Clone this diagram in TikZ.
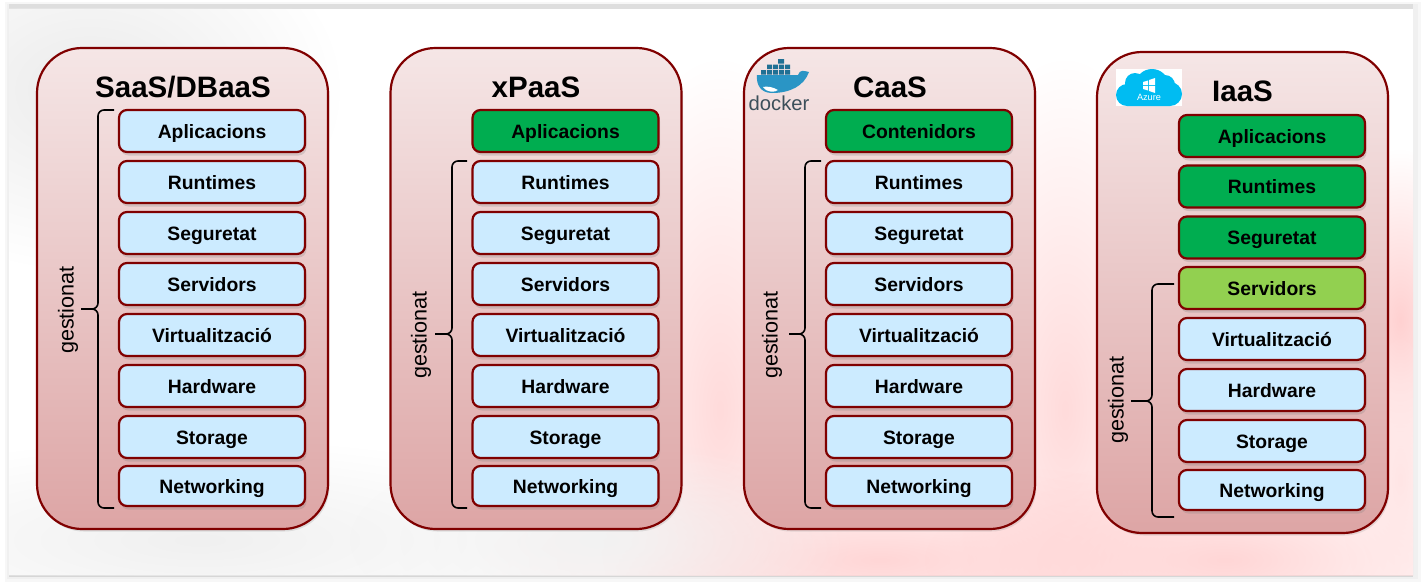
\documentclass[tikz,border=0pt]{standalone}
\usepackage{fontspec}
\setmainfont{Liberation Sans}
\usepackage{tikz}
\usetikzlibrary{shadows,fadings}

\tikzfading[name=softblob, inner color=transparent!0, outer color=transparent!100]

\begin{document}
\begin{tikzpicture}[
    font=\fontsize{11}{13}\selectfont\bfseries,
    panel/.style={
        fill=white,
        minimum width=28.08cm,
        minimum height=11.32cm,
        inner sep=0pt
    },
    smudge/.style={
        fill=red!#1,
        path fading=softblob
    },
    greysmudge/.style={
        fill=black!#1,
        path fading=softblob
    },
    column/.style={
        draw=framered,
        line width=1.25pt,
        rounded corners=9mm,
        minimum width=5.82cm,
        minimum height=9.62cm,
        top color=columntop,
        bottom color=columnbot,
        drop shadow={shadow xshift=0.3mm, shadow yshift=-0.5mm, opacity=0.2}
    },
    layer/.style={
        draw=framered,
        line width=1.25pt,
        rounded corners=1.6mm,
        minimum width=3.72cm,
        minimum height=0.84cm,
        text height=10pt,
        text depth=2pt,
        align=center,
        fill=layerblue,
        drop shadow={shadow xshift=0.3mm, shadow yshift=-0.7mm, opacity=0.25}
    },
    own/.style={layer, fill=owngreen},
    part/.style={layer, fill=partgreen},
    lastlayer/.style={layer, minimum height=0.8cm},
    title/.style={font=\fontsize{16.8}{20}\selectfont\bfseries},
    gest/.style={font=\fontsize{12.3}{15}\selectfont\mdseries, rotate=90},
    brc/.style={draw=black, line width=0.9pt, rounded corners=1.2mm}
]
\definecolor{framered}{HTML}{800000}
\definecolor{columntop}{HTML}{F5E6E6}
\definecolor{columnbot}{HTML}{DDA5A5}
\definecolor{layerblue}{HTML}{CCEBFF}
\definecolor{owngreen}{HTML}{00AD50}
\definecolor{partgreen}{HTML}{92D050}
\definecolor{dockblue}{HTML}{2A95C5}
\definecolor{dockgray}{HTML}{3C4F5A}
\definecolor{azureblue}{HTML}{00BCF2}

\useasboundingbox (0,0) rectangle (28.42,-11.66);

\fill[black!3] (0.1,-0.04) rectangle (28.42,-11.64);
\fill[black!6] (0.14,-0.08) rectangle (28.36,-11.58);
\fill[black!13] (0.18,-0.08) rectangle (28.26,-0.18);
\fill[black!16] (0.18,-11.5) rectangle (28.26,-11.54);
\node[panel] (sheet) at (14.22,-5.84) {};

\begin{scope}
\clip (0.18,-0.18) rectangle (28.26,-11.5);
\fill[smudge=14] (14.4,-8.2) ellipse (2.6cm and 7cm);
\fill[smudge=14] (21.3,-8.2) ellipse (2.6cm and 7cm);
\fill[smudge=16] (17.6,-11.2) ellipse (8cm and 2cm);
\fill[smudge=16] (24.5,-11.2) ellipse (6cm and 2cm);
\fill[smudge=18] (28,-6.4) ellipse (1.6cm and 3.4cm);
\fill[smudge=10] (28,-9.6) ellipse (1.2cm and 3cm);
\fill[greysmudge=8] (1.8,-1.8) ellipse (5cm and 3.6cm);
\fill[greysmudge=6] (4,-10.8) ellipse (8cm and 2cm);
\fill[greysmudge=5] (12,-10.8) ellipse (5cm and 2cm);
\end{scope}

\node[column] (saas) at (3.65,-5.77) {};
\node[column] (xpaas) at (10.72,-5.77) {};
\node[column] (caas) at (17.79,-5.77) {};
\node[column] (iaas) at (24.85,-5.85) {};

\node[title] (saast) at (3.66,-1.74) {SaaS/DBaaS};
\node[title] (xpaast) at (10.72,-1.74) {xPaaS};
\node[title] (caast) at (17.8,-1.74) {CaaS};
\node[title] (iaast) at (24.85,-1.82) {IaaS};

\node[layer] (apl1) at (4.24,-2.62) {Aplicacions};
\node[layer] (run1) at (4.24,-3.64) {Runtimes};
\node[layer] (seg1) at (4.24,-4.66) {Seguretat};
\node[layer] (ser1) at (4.24,-5.68) {Servidors};
\node[layer] (vir1) at (4.24,-6.70) {Virtualització};
\node[layer] (har1) at (4.24,-7.72) {Hardware};
\node[layer] (sto1) at (4.24,-8.74) {Storage};
\node[lastlayer] (net1) at (4.24,-9.72) {Networking};

\node[own] (apl2) at (11.31,-2.62) {Aplicacions};
\node[layer] (run2) at (11.31,-3.64) {Runtimes};
\node[layer] (seg2) at (11.31,-4.66) {Seguretat};
\node[layer] (ser2) at (11.31,-5.68) {Servidors};
\node[layer] (vir2) at (11.31,-6.70) {Virtualització};
\node[layer] (har2) at (11.31,-7.72) {Hardware};
\node[layer] (sto2) at (11.31,-8.74) {Storage};
\node[lastlayer] (net2) at (11.31,-9.72) {Networking};

\node[own] (con3) at (18.38,-2.62) {Contenidors};
\node[layer] (run3) at (18.38,-3.64) {Runtimes};
\node[layer] (seg3) at (18.38,-4.66) {Seguretat};
\node[layer] (ser3) at (18.38,-5.68) {Servidors};
\node[layer] (vir3) at (18.38,-6.70) {Virtualització};
\node[layer] (har3) at (18.38,-7.72) {Hardware};
\node[layer] (sto3) at (18.38,-8.74) {Storage};
\node[lastlayer] (net3) at (18.38,-9.72) {Networking};

\node[own] (apl4) at (25.44,-2.72) {Aplicacions};
\node[own] (run4) at (25.44,-3.73) {Runtimes};
\node[own] (seg4) at (25.44,-4.75) {Seguretat};
\node[part] (ser4) at (25.44,-5.76) {Servidors};
\node[layer] (vir4) at (25.44,-6.78) {Virtualització};
\node[layer] (har4) at (25.44,-7.80) {Hardware};
\node[layer] (sto4) at (25.44,-8.82) {Storage};
\node[lastlayer] (net4) at (25.44,-9.80) {Networking};

\coordinate (brc1t) at (2.28,-2.2);
\coordinate (brc1m) at (1.62,-6.18);
\coordinate (brc1b) at (2.28,-10.16);
\coordinate (brc2t) at (9.34,-3.22);
\coordinate (brc2m) at (8.7,-6.68);
\coordinate (brc2b) at (9.34,-10.16);
\coordinate (brc3t) at (16.42,-3.22);
\coordinate (brc3m) at (15.78,-6.68);
\coordinate (brc3b) at (16.42,-10.16);
\coordinate (brc4t) at (23.48,-5.68);
\coordinate (brc4m) at (22.62,-8.02);
\coordinate (brc4b) at (23.48,-10.34);

\draw[brc] (brc1t) -- (1.96,-2.2) -- (1.96,-6.18) -- (brc1m) (brc1m) -- (1.96,-6.18) -- (1.96,-10.16) -- (brc1b);
\draw[brc] (brc2t) -- (9.04,-3.22) -- (9.04,-6.68) -- (brc2m) (brc2m) -- (9.04,-6.68) -- (9.04,-10.16) -- (brc2b);
\draw[brc] (brc3t) -- (16.1,-3.22) -- (16.1,-6.68) -- (brc3m) (brc3m) -- (16.1,-6.68) -- (16.1,-10.16) -- (brc3b);
\draw[brc] (brc4t) -- (23.04,-5.68) -- (23.04,-8.02) -- (brc4m) (brc4m) -- (23.04,-8.02) -- (23.04,-10.34) -- (brc4b);

\node[gest] (gest1) at (1.36,-6.2) {gestionat};
\node[gest] (gest2) at (8.42,-6.7) {gestionat};
\node[gest] (gest3) at (15.44,-6.7) {gestionat};
\node[gest] (gest4) at (22.36,-8) {gestionat};

\fill[dockblue] (15.14,-1.5) -- (15.96,-1.5) .. controls (16.0,-1.38) and (16.08,-1.42) .. (16.18,-1.44)
    .. controls (16.08,-1.72) and (15.8,-1.86) .. (15.44,-1.86) .. controls (15.22,-1.86) and (15.12,-1.7) .. cycle;
\fill[white] (15.26,-1.74) .. controls (15.34,-1.72) and (15.46,-1.74) .. (15.56,-1.8) .. controls (15.5,-1.85) and (15.34,-1.86) .. cycle;
\fill[dockblue!75!black] (15.22,-1.4) rectangle (15.32,-1.49) (15.34,-1.4) rectangle (15.44,-1.49)
    (15.46,-1.4) rectangle (15.56,-1.49) (15.58,-1.4) rectangle (15.68,-1.49) (15.7,-1.4) rectangle (15.8,-1.49)
    (15.34,-1.29) rectangle (15.44,-1.38) (15.46,-1.29) rectangle (15.56,-1.38) (15.58,-1.29) rectangle (15.68,-1.38) (15.7,-1.29) rectangle (15.8,-1.38)
    (15.56,-1.18) rectangle (15.68,-1.27);
\node[text=dockgray, font=\fontsize{11.5}{14}\selectfont\mdseries] (docker) at (15.58,-2.06) {docker};

\fill[white] (22.32,-1.38) rectangle (23.64,-2.12);
\fill[azureblue] (22.54,-1.9) circle (0.22) (22.7,-1.66) circle (0.2) (23.04,-1.72) circle (0.34) (23.3,-1.7) circle (0.2)
    (23.4,-1.88) circle (0.24) (22.54,-1.8) rectangle (23.4,-2.12);
\fill[white] (22.86,-1.64) -- (22.96,-1.61) -- (22.96,-1.7) -- (22.86,-1.7) -- cycle
    (22.98,-1.6) -- (23.1,-1.56) -- (23.1,-1.7) -- (22.98,-1.7) -- cycle
    (22.86,-1.72) -- (22.96,-1.72) -- (22.96,-1.81) -- (22.86,-1.78) -- cycle
    (22.98,-1.72) -- (23.1,-1.72) -- (23.1,-1.86) -- (22.98,-1.82) -- cycle;
\node[text=white, inner sep=0pt, font=\fontsize{5.2}{6}\selectfont\mdseries] (azure) at (22.98,-1.95) {Azure};

\end{tikzpicture}
\end{document}
